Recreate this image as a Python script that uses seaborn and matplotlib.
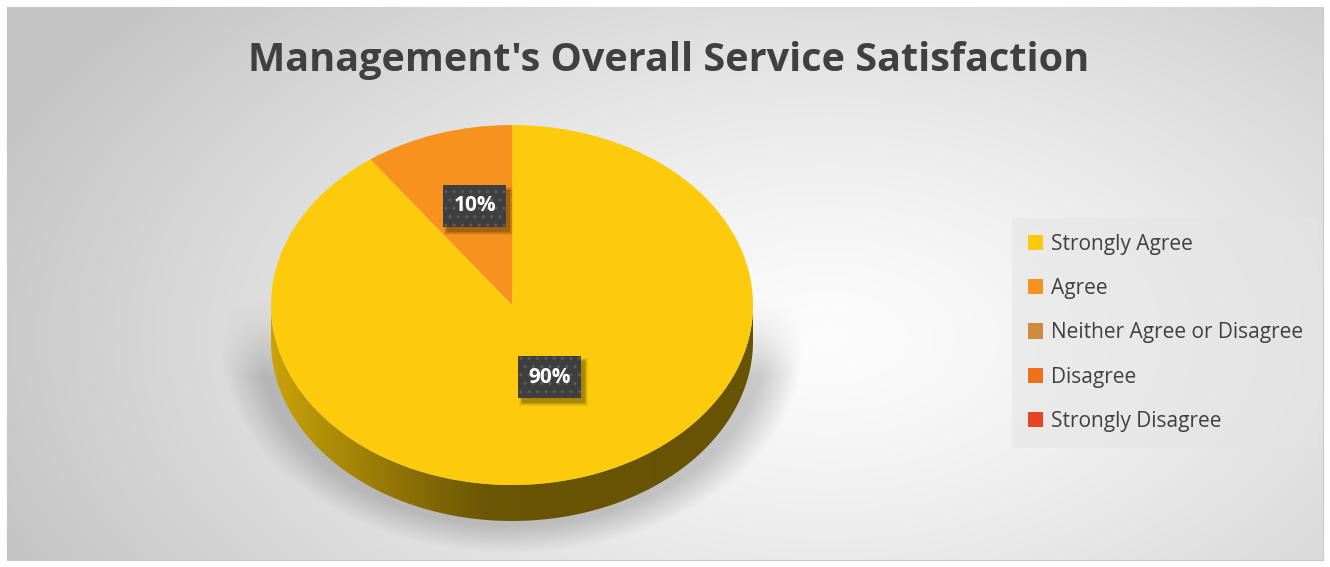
import numpy as np
import matplotlib
matplotlib.use("Agg")
import matplotlib.pyplot as plt
import seaborn as sns
from matplotlib.patches import Polygon, Rectangle
from matplotlib.colors import to_rgb

sns.set_theme(style="white")
plt.rcParams["font.family"] = ["Open Sans", "DejaVu Sans"]

# ---- data ----
categories = ["Strongly Agree", "Agree", "Neither Agree or Disagree",
              "Disagree", "Strongly Disagree"]
shares = [90, 10, 0, 0, 0]
colors = ["#FDCB0B", "#F7921E", "#CD8B40", "#EC7118", "#E64424"]
title = "Management's Overall Service Satisfaction"

W, H, DPI = 1330, 567, 100
fig = plt.figure(figsize=(W / DPI, H / DPI), dpi=DPI)
fig.patch.set_facecolor("white")

# ---- chart-area background: soft radial gradient ----
bg = fig.add_axes([7 / W, 7 / H, (1323 - 7) / W, (560 - 7) / H])
yy, xx = np.mgrid[0:553, 0:1316]
d = np.sqrt(((xx - 820) / 900.0) ** 2 + ((yy - 330) / 520.0) ** 2)
shade = np.clip(0.99 - 0.22 * d ** 1.3, 0.77, 1.0)
bg.imshow(np.dstack([shade] * 3), aspect="auto", extent=(0, 1, 0, 1))
bg.set_axis_off()
fig.add_artist(Rectangle((7 / W, 7 / H), (1323 - 7) / W, (560 - 7) / H,
                         transform=fig.transFigure, fill=False,
                         edgecolor="#c8c8c8", lw=0.8, zorder=0))

# ---- pie axes: data units map to an ellipse ----
cx, cy, rx, ry, depth = 512, 305, 241, 180, 36
ax = fig.add_axes([0, 0, 1, 1])
ax.patch.set_alpha(0)
xlim = (-cx / rx, (W - cx) / rx)
ylim = ((cy - H) / ry, cy / ry)
dz = depth / ry

# soft drop shadow beneath the disc
sh_y, sh_x = np.mgrid[ylim[0]:ylim[1]:400j, xlim[0]:xlim[1]:900j]
rr = np.sqrt((sh_x / 1.07) ** 2 + ((sh_y + dz + 0.02) / 1.03) ** 2)
alpha = np.clip((1.13 - rr) / 0.15, 0, 1) * 0.30
alpha *= np.clip((0.05 - sh_y) / 0.45, 0, 1) ** 1.5
shadow = np.zeros(sh_x.shape + (4,))
shadow[..., :3] = 0.35
shadow[..., 3] = alpha
ax.imshow(shadow, extent=(xlim[0], xlim[1], ylim[0], ylim[1]),
          origin="lower", aspect="auto", zorder=0)

wedges, texts, autotexts = ax.pie(
    shares, colors=colors, startangle=90, counterclock=False,
    autopct=lambda p: f"{p:.0f}%" if p > 0 else "", pctdistance=0.5,
    wedgeprops=dict(linewidth=0), radius=1.0,
    textprops=dict(color="white", fontsize=15, fontweight="bold"))
for w in wedges:
    w.set_zorder(3)


def side_shade(x):
    # lighter toward the left, darker toward the right
    return np.interp(x, [-1.0, -0.5, -0.1, 1.0], [0.80, 0.58, 0.42, 0.41])


# extruded side wall along the visible (front) rim of each slice
gx = np.linspace(-1, 1, 600)
start = 90.0
for share, col in zip(shares, colors):
    sweep = 360.0 * share / sum(shares)
    a0, a1 = start - sweep, start
    start = a0
    if sweep <= 0:
        continue
    base = np.array(to_rgb(col))
    for f0, f1 in [(-540, -360), (-180, 0), (180, 360)]:
        lo, hi = max(a0, f0), min(a1, f1)
        if hi <= lo:
            continue
        th = np.radians(np.linspace(lo, hi, 400))
        top = np.column_stack([np.cos(th), np.sin(th)])
        bot = top[::-1] - [0, dz]
        poly = Polygon(np.vstack([top, bot]), closed=True,
                       facecolor="none", edgecolor="none")
        ax.add_patch(poly)
        grad = (base[None, :] * side_shade(gx)[:, None])[None, :, :]
        im = ax.imshow(np.clip(grad, 0, 1), extent=(-1, 1, -1 - dz, 0),
                       aspect="auto", zorder=2, interpolation="bilinear")
        im.set_clip_path(poly)

ax.set_xlim(*xlim)
ax.set_ylim(*ylim)
ax.set_aspect("auto")
ax.set_axis_off()

# value labels on dark dotted boxes
labels = []
for t in autotexts:
    if not t.get_text():
        continue
    px, py = t.get_position()
    t.set_position((px, py + 0.075))
    t.set_zorder(6)
    t.set_bbox(dict(boxstyle="square,pad=0.5", facecolor="#3f3f3f",
                    edgecolor="#5c5c5c", linewidth=0, hatch=".."))
    labels.append(t)

# soft drop shadow behind each label box
fig.canvas.draw()
renderer = fig.canvas.get_renderer()
for t in labels:
    bb = t.get_bbox_patch().get_window_extent(renderer)
    for grow, a in [(3, 0.06), (2, 0.08), (1, 0.10), (0, 0.14)]:
        ax.add_artist(Rectangle((bb.x0 + 4 - grow, bb.y0 - 5 - grow),
                                bb.width + 2 * grow, bb.height + 2 * grow,
                                transform=None, facecolor="black",
                                edgecolor="none", alpha=a, zorder=5))

# ---- title ----
fig.text(669 / W, 1 - 60 / H, title, ha="center", va="center",
         fontsize=28.5, fontweight="bold", color="#404040")

# ---- legend ----
leg_handles = [Rectangle((0, 0), 1, 1, facecolor=c, edgecolor="none") for c in colors]
leg = fig.legend(leg_handles, categories, loc="upper left",
                 bbox_to_anchor=(1012 / W, 1 - 218 / H), frameon=True,
                 borderaxespad=0, fontsize=15, handlelength=0.75,
                 handleheight=0.75, handletextpad=0.35, labelspacing=1.12,
                 borderpad=0.75, fancybox=False, labelcolor="#404040")
leg.get_frame().set_facecolor("#e4e4e4")
leg.get_frame().set_alpha(0.55)
leg.get_frame().set_edgecolor("none")

fig.savefig("out.png", dpi=DPI)
